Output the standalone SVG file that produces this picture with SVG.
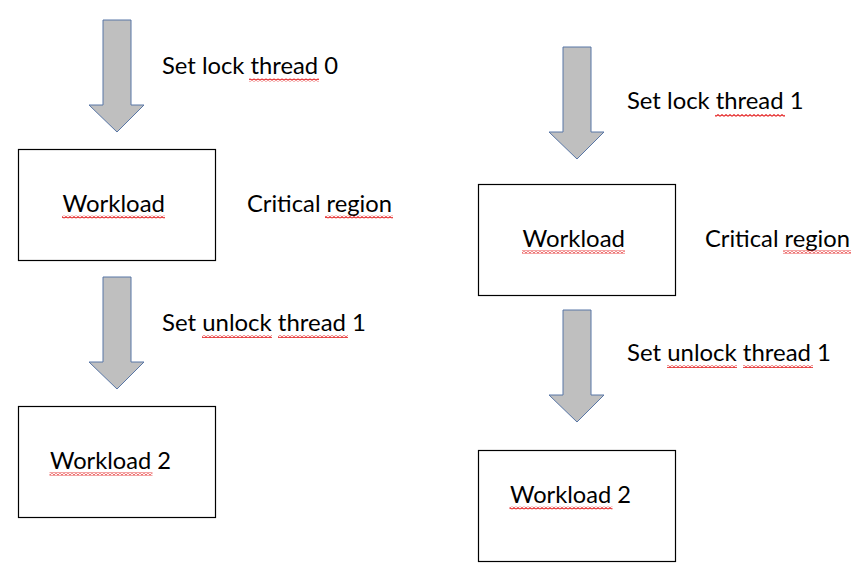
<svg xmlns="http://www.w3.org/2000/svg" width="867" height="584" viewBox="0 0 867 584">
  <style>
    .box { fill: #ffffff; stroke: #000000; stroke-width: 1.2; }
    .arrow { fill: #bfbfbf; stroke: #5876a6; stroke-width: 1; stroke-linejoin: miter; }
    .t { font-family: Lato, "Open Sans", "Liberation Sans", sans-serif; font-size: 22.5px; fill: #000000; }
    .sq { fill: url(#squiggle); }
  </style>
  <defs>
    <pattern id="squiggle" x="0" y="0" width="4" height="3" patternUnits="userSpaceOnUse">
      <path d="M0 2.3 L2 0.7 L4 2.3" fill="none" stroke="#e52b2b" stroke-width="1.2"/>
    </pattern>
  </defs>
  <rect width="867" height="584" fill="#ffffff"/>

  <g id="connectors">
    <polygon id="arrow-lock0" class="arrow" points="103,20 131,20 131,105 144,105 117,132 89,105 103,105"/>
    <polygon id="arrow-unlock-left" class="arrow" points="103,277 131,277 131,362 144,362 117,389 89,362 103,362"/>
    <polygon id="arrow-lock1" class="arrow" points="563,47 591,47 591,132 604,132 577,159 549,132 563,132"/>
    <polygon id="arrow-unlock-right" class="arrow" points="563,310 591,310 591,395 604,395 577,422 549,395 563,395"/>
  </g>

  <g id="label-lock0">
    <text class="t" x="162" y="74" textLength="176" lengthAdjust="spacingAndGlyphs">Set lock thread 0</text>
    <rect class="sq" x="249" y="78.5" width="70" height="3"/>
  </g>

  <g id="node-workload-left">
    <rect class="box" x="18.5" y="149.5" width="197" height="111"/>
    <text class="t" x="62.5" y="211.5" textLength="102.5" lengthAdjust="spacingAndGlyphs">Workload</text>
    <rect class="sq" x="62" y="215.5" width="103" height="3"/>
  </g>

  <g id="label-critical-left">
    <text class="t" x="247" y="211.5" textLength="145" lengthAdjust="spacingAndGlyphs">Critical region</text>
    <rect class="sq" x="325" y="215.5" width="68" height="3"/>
  </g>

  <g id="label-unlock-left">
    <text class="t" x="162" y="330.5" textLength="204" lengthAdjust="spacingAndGlyphs">Set unlock thread 1</text>
    <rect class="sq" x="202" y="335" width="70" height="3"/>
    <rect class="sq" x="278" y="335" width="70" height="3"/>
  </g>

  <g id="node-workload2-left">
    <rect class="box" x="18.5" y="406.5" width="197" height="111"/>
    <text class="t" x="50" y="468.5" textLength="121" lengthAdjust="spacingAndGlyphs">Workload 2</text>
    <rect class="sq" x="49.5" y="472.5" width="103" height="3"/>
  </g>

  <g id="label-lock1">
    <text class="t" x="627" y="109" textLength="176.5" lengthAdjust="spacingAndGlyphs">Set lock thread 1</text>
    <rect class="sq" x="715" y="114" width="70" height="3"/>
  </g>

  <g id="node-workload-right">
    <rect class="box" x="478.5" y="184.5" width="197" height="111"/>
    <text class="t" x="522.5" y="246.5" textLength="102.5" lengthAdjust="spacingAndGlyphs">Workload</text>
    <rect class="sq" x="522" y="250.5" width="103" height="3"/>
  </g>

  <g id="label-critical-right">
    <text class="t" x="705" y="246.5" textLength="145" lengthAdjust="spacingAndGlyphs">Critical region</text>
    <rect class="sq" x="783" y="250.5" width="68" height="3"/>
  </g>

  <g id="label-unlock-right">
    <text class="t" x="627" y="360.5" textLength="204" lengthAdjust="spacingAndGlyphs">Set unlock thread 1</text>
    <rect class="sq" x="667" y="365" width="70" height="3"/>
    <rect class="sq" x="743" y="365" width="70" height="3"/>
  </g>

  <g id="node-workload2-right">
    <rect class="box" x="478.5" y="450.5" width="197" height="111"/>
    <text class="t" x="510" y="502.5" textLength="121" lengthAdjust="spacingAndGlyphs">Workload 2</text>
    <rect class="sq" x="509.5" y="506.5" width="103" height="3"/>
  </g>
</svg>
